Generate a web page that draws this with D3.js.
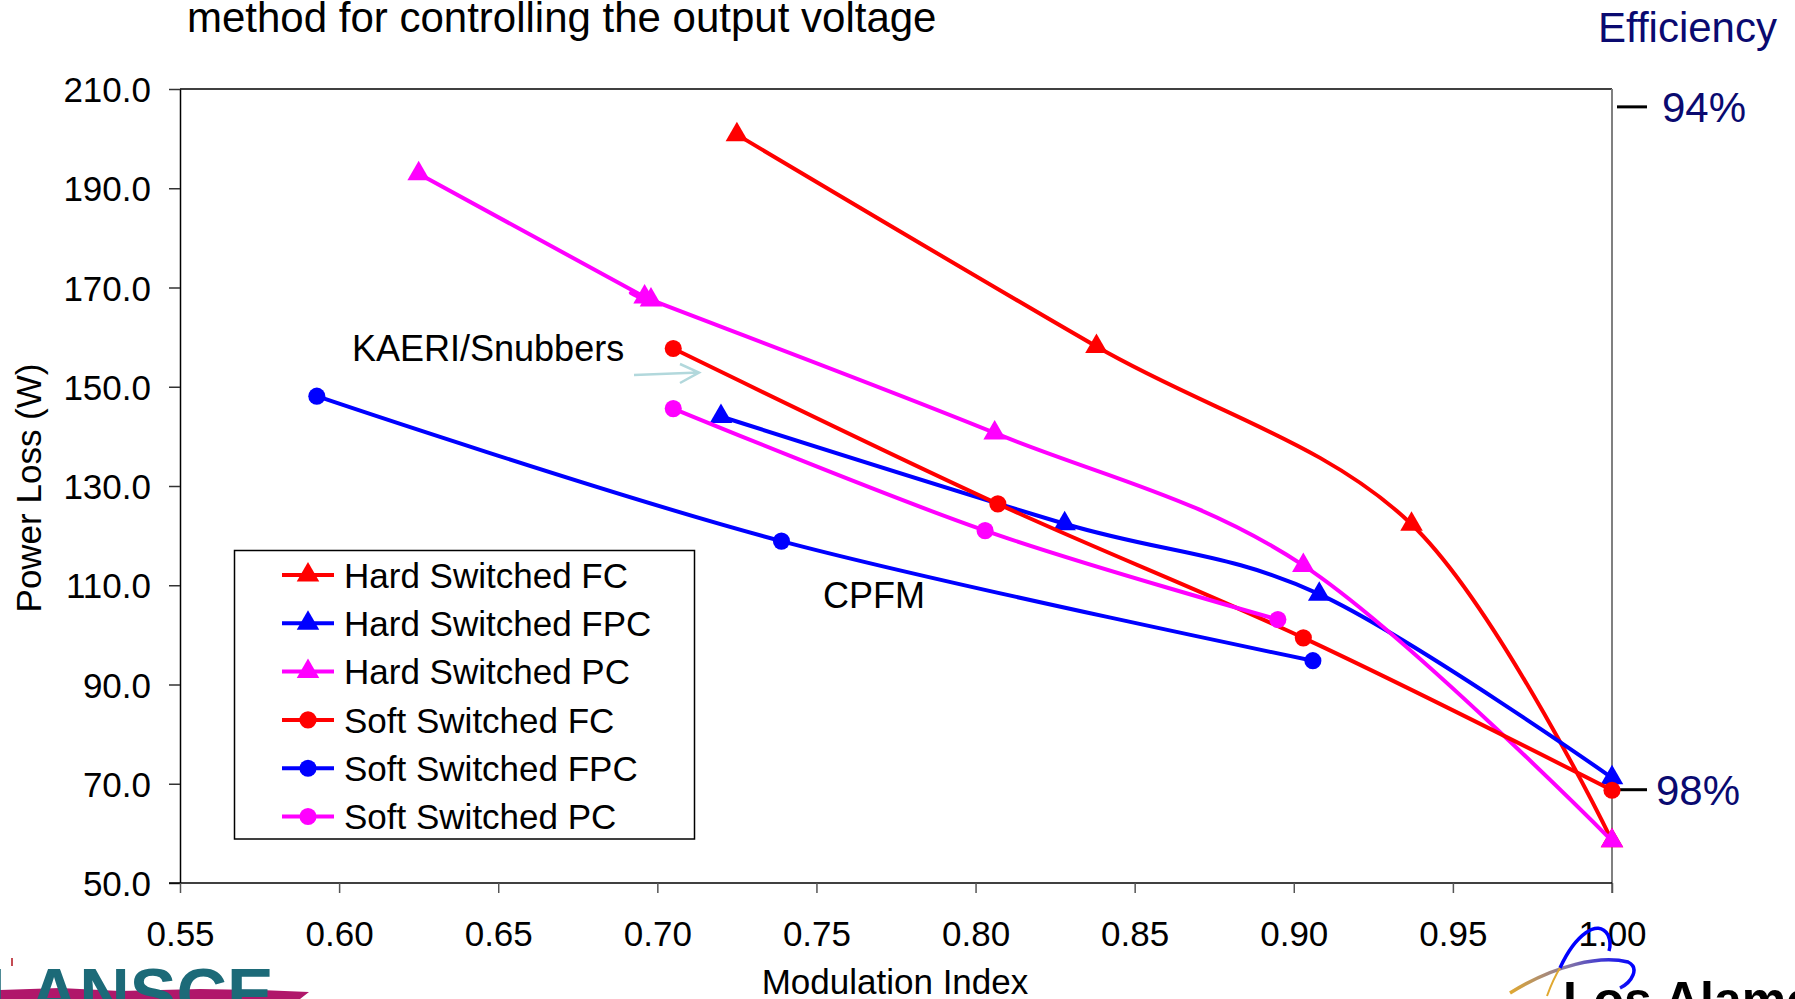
<!DOCTYPE html>
<html>
<head>
<meta charset="utf-8">
<script src="https://cdn.jsdelivr.net/npm/d3@7"></script>
<style>
  html, body { margin: 0; padding: 0; background: #fff; overflow: hidden; }
  svg { display: block; font-family: "Liberation Sans", Arial, sans-serif; }
</style>
</head>
<body>
<svg id="chart" width="1795" height="999"></svg>
<script>
// data
const seriesNames = ["Hard Switched FC", "Hard Switched FPC", "Hard Switched PC",
                     "Soft Switched FC", "Soft Switched FPC", "Soft Switched PC"];
const seriesColors = ["#ff0000", "#0000ff", "#ff00ff", "#ff0000", "#0000ff", "#ff00ff"];
const seriesMarkers = ["triangle", "triangle", "triangle", "circle", "circle", "circle"];

const hardFC_x  = [0.725, 0.838, 0.937, 1.000];
const hardFC_y  = [200.8, 158.1, 122.3, 58.5];
const hardFPC_x = [0.720, 0.828, 0.908, 1.000];
const hardFPC_y = [144.0, 122.4, 108.2, 71.2];
const hardPC_x  = [0.625, 0.696, 0.698, 0.806, 0.903, 1.000];
const hardPC_y  = [192.9, 168.1, 167.5, 140.7, 114.0, 58.5];
const softFC_x  = [0.705, 0.807, 0.903, 1.000];
const softFC_y  = [157.7, 126.4, 99.4, 68.7];
const softFPC_x = [0.593, 0.739, 0.906];
const softFPC_y = [148.1, 118.9, 94.8];
const softPC_x  = [0.705, 0.803, 0.895];
const softPC_y  = [145.6, 121.0, 103.1];

const xTicks = [0.55, 0.60, 0.65, 0.70, 0.75, 0.80, 0.85, 0.90, 0.95, 1.00];
const yTicks = [50, 70, 90, 110, 130, 150, 170, 190, 210];
const effTicks = [94, 98];       // efficiency (%)
const ratedPower = 3440;         // W, links efficiency to power loss

const seriesX = [hardFC_x, hardFPC_x, hardPC_x, softFC_x, softFPC_x, softPC_x];
const seriesY = [hardFC_y, hardFPC_y, hardPC_y, softFC_y, softFPC_y, softPC_y];
const series = seriesNames.map((name, i) => ({
  name, color: seriesColors[i], marker: seriesMarkers[i],
  points: seriesX[i].map((x, j) => ({ x, y: seriesY[i][j] }))
}));

const svg = d3.select("#chart");
const plotLeft = 180, plotRight = 1612, plotTop = 89, plotBottom = 883;

const x = d3.scaleLinear().domain([0.55, 1.0]).range([plotLeft, plotRight]);
const y = d3.scaleLinear().domain([50, 210]).range([plotBottom, plotTop]);

// title (cut at top of slide)
svg.append("text").attr("x", 187).attr("y", 32)
  .attr("font-size", 42).attr("fill", "#000")
  .text("method for controlling the output voltage");

// plot frame
svg.append("line").attr("x1", plotLeft).attr("x2", plotRight).attr("y1", plotTop).attr("y2", plotTop)
  .attr("stroke", "#000").attr("stroke-width", 1.5);
svg.append("line").attr("x1", plotRight).attr("x2", plotRight).attr("y1", plotTop).attr("y2", plotBottom + 10)
  .attr("stroke", "#808080").attr("stroke-width", 2);

// axes
const yAxis = svg.append("g").attr("transform", `translate(${plotLeft},0)`)
  .call(d3.axisLeft(y).tickValues(yTicks).tickFormat(d3.format(".1f")).tickSize(11).tickSizeOuter(0));
yAxis.select(".domain").attr("stroke", "#000").attr("stroke-width", 1.5);
yAxis.selectAll(".tick line").attr("stroke", "#333").attr("stroke-width", 1.5);
yAxis.selectAll(".tick text").attr("x", -29).attr("dy", "0.36em")
  .attr("font-size", 35).attr("font-family", "Liberation Sans, Arial, sans-serif").attr("fill", "#000");

const xAxis = svg.append("g").attr("transform", `translate(0,${plotBottom})`)
  .call(d3.axisBottom(x).tickValues(xTicks).tickFormat(d3.format(".2f")).tickSize(10).tickSizeOuter(0));
xAxis.select(".domain").attr("stroke", "#000").attr("stroke-width", 1.5)
  .attr("d", `M${plotLeft - 11},0H${plotRight}`);
xAxis.selectAll(".tick line").attr("stroke", "#555").attr("stroke-width", 1.5);
xAxis.selectAll(".tick text").attr("y", 50).attr("dy", "0.36em")
  .attr("font-size", 35).attr("font-family", "Liberation Sans, Arial, sans-serif").attr("fill", "#000");

// axis titles
svg.append("text").attr("transform", `translate(41,488) rotate(-90)`)
  .attr("text-anchor", "middle").attr("font-size", 35).text("Power Loss (W)");
svg.append("text").attr("x", 895).attr("y", 994)
  .attr("text-anchor", "middle").attr("font-size", 35).text("Modulation Index");

// efficiency axis on the right
const navy = "#0a0a70";
svg.append("text").attr("x", 1598).attr("y", 42).attr("font-size", 42).attr("fill", navy).text("Efficiency");
const effG = svg.append("g").selectAll("g").data(effTicks).join("g")
  .attr("transform", d => `translate(${plotRight},${y((1 - d / 100) * ratedPower)})`);
effG.append("line").attr("x1", 5).attr("x2", 35).attr("stroke", "#000").attr("stroke-width", 3);
effG.append("text").attr("x", d => d === 94 ? 50 : 44).attr("dy", "0.36em")
  .attr("font-size", 42).attr("fill", navy).text(d => d + "%");

// lines
const line = d3.line().x(d => x(d.x)).y(d => y(d.y)).curve(d3.curveCardinal.tension(0));
const symTri = d3.symbol(d3.symbolTriangle, 220);
const symCirc = d3.symbol(d3.symbolCircle, 230);

const sg = svg.append("g").selectAll("g").data(series).join("g");
sg.append("path").attr("d", d => line(d.points))
  .attr("fill", "none").attr("stroke", d => d.color).attr("stroke-width", 4)
  .attr("stroke-linejoin", "round");
sg.each(function (s) {
  d3.select(this).selectAll(".mk").data(s.points).join("path").attr("class", "mk")
    .attr("transform", d => `translate(${x(d.x)},${y(d.y)})`)
    .attr("d", s.marker === "triangle" ? symTri : symCirc)
    .attr("fill", s.color);
});

// annotations
svg.append("text").attr("x", 352).attr("y", 361).attr("font-size", 36).text("KAERI/Snubbers");
svg.append("path").attr("d", "M634,375 L699,372.5 M680,364 L699,372.5 L680,383")
  .attr("fill", "none").attr("stroke", "#b2d8dc").attr("stroke-width", 2.5);
svg.append("text").attr("x", 823).attr("y", 608).attr("font-size", 36).text("CPFM");

// legend
const lg = svg.append("g");
lg.append("rect").attr("x", 234.5).attr("y", 550.5).attr("width", 460).attr("height", 288.5)
  .attr("fill", "#fff").attr("stroke", "#000").attr("stroke-width", 1.5);
const li = lg.selectAll(".li").data(series).join("g").attr("class", "li")
  .attr("transform", (d, i) => `translate(0,${575 + i * 48.3})`);
li.append("line").attr("x1", 282).attr("x2", 334).attr("stroke", d => d.color).attr("stroke-width", 4);
li.append("path").attr("transform", "translate(308,0)")
  .attr("d", d => d.marker === "triangle" ? symTri() : symCirc())
  .attr("fill", d => d.color);
li.append("text").attr("x", 344).attr("dy", "0.36em").attr("font-size", 35).text(d => d.name);

// LANSCE logo (cut off at bottom)
svg.append("path")
  .attr("d", "M0,990 L60,988 L120,991 L200,989 L260,990 L309,992 L300,999 L0,999 Z")
  .attr("fill", "#b0176a");
svg.append("text").attr("x", -14).attr("y", 1018).attr("font-size", 70).attr("font-weight", "bold")
  .attr("fill", "#1c6a78").text("LANSCE");
svg.append("line").attr("x1", 12).attr("x2", 12).attr("y1", 958).attr("y2", 966)
  .attr("stroke", "#b0101a").attr("stroke-width", 1.5);

// Los Alamos logo (cut off at bottom)
const defs = svg.append("defs");
const grad = defs.append("linearGradient").attr("id", "swoosh").attr("x1", "0%").attr("x2", "100%");
grad.append("stop").attr("offset", "0%").attr("stop-color", "#e0a830");
grad.append("stop").attr("offset", "45%").attr("stop-color", "#8a7aa0");
grad.append("stop").attr("offset", "100%").attr("stop-color", "#0000ff");
svg.append("path").attr("d", "M1510,993 C1555,965 1600,955 1628,962 C1640,968 1632,982 1620,988")
  .attr("fill", "none").attr("stroke", "url(#swoosh)").attr("stroke-width", 3.5);
svg.append("path").attr("d", "M1560,968 C1575,935 1598,918 1608,935 C1611,942 1610,948 1609,951")
  .attr("fill", "none").attr("stroke", "#0000ff").attr("stroke-width", 3.5);
svg.append("path").attr("d", "M1547,996 C1551,985 1555,976 1560,968")
  .attr("fill", "none").attr("stroke", "#e0a830").attr("stroke-width", 2);
svg.append("text").attr("x", 1563).attr("y", 1017).attr("font-size", 50).attr("font-weight", "bold")
  .attr("fill", "#000").text("Los Alamos");
</script>
</body>
</html>
